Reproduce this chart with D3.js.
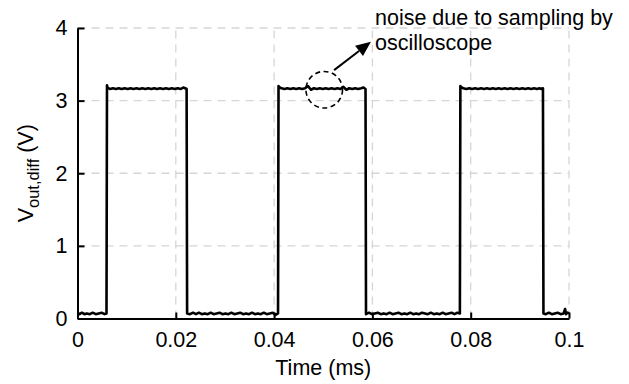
<!DOCTYPE html>
<html>
<head>
<meta charset="utf-8">
<script src="https://cdn.jsdelivr.net/npm/d3@7"></script>
<style>
  html, body { margin: 0; padding: 0; background: #fff; }
  svg { display: block; font-family: "Liberation Sans", Arial, sans-serif; }
</style>
</head>
<body>
<svg id="chart" width="629" height="384"></svg>
<script>
// ---------- data (time in ms, voltage in V) ----------
const xTicks = [0, 0.02, 0.04, 0.06, 0.08, 0.1];
const xTickLabels = ["0", "0.02", "0.04", "0.06", "0.08", "0.1"];
const yTicks = [0, 1, 2, 3, 4];
const yTickLabels = ["0", "1", "2", "3", "4"];

const low1T = [0, 0.0004, 0.0009, 0.0014, 0.0019, 0.0025, 0.0031, 0.0037, 0.0043, 0.0049, 0.0055, 0.0059];
const low1V = [0.08, 0.06, 0.08, 0.06, 0.07, 0.06, 0.08, 0.06, 0.07, 0.08, 0.06, 0.07];

const high1T = [0.0060, 0.0061, 0.0066, 0.0072, 0.0078, 0.0084, 0.0090, 0.0096, 0.0102, 0.0108, 0.0114, 0.0120, 0.0126, 0.0132, 0.0138, 0.0144, 0.0150, 0.0156, 0.0162, 0.0168, 0.0174, 0.0180, 0.0186, 0.0192, 0.0198, 0.0204, 0.0210, 0.0215, 0.0219, 0.0222];
const high1V = [3.21, 3.18, 3.16, 3.17, 3.16, 3.17, 3.16, 3.17, 3.16, 3.17, 3.16, 3.17, 3.16, 3.17, 3.16, 3.17, 3.16, 3.17, 3.16, 3.17, 3.16, 3.17, 3.16, 3.17, 3.16, 3.17, 3.16, 3.18, 3.17, 3.16];

const low2T = [0.0223, 0.0229, 0.0235, 0.0241, 0.0247, 0.0253, 0.0259, 0.0265, 0.0271, 0.0277, 0.0283, 0.0289, 0.0295, 0.0301, 0.0307, 0.0313, 0.0319, 0.0325, 0.0331, 0.0337, 0.0343, 0.0349, 0.0355, 0.0361, 0.0367, 0.0373, 0.0379, 0.0385, 0.0391, 0.0397, 0.0403, 0.0408];
const low2V = [0.07, 0.06, 0.08, 0.06, 0.08, 0.06, 0.07, 0.06, 0.08, 0.06, 0.07, 0.08, 0.06, 0.07, 0.06, 0.08, 0.06, 0.07, 0.08, 0.06, 0.07, 0.06, 0.08, 0.06, 0.07, 0.06, 0.08, 0.06, 0.07, 0.08, 0.05, 0.07];

const high2T = [0.0409, 0.0410, 0.0415, 0.0421, 0.0427, 0.0433, 0.0439, 0.0445, 0.0451, 0.0457, 0.0463, 0.0469, 0.0475, 0.0481, 0.0487, 0.0493, 0.0499, 0.0505, 0.0511, 0.0517, 0.0523, 0.0529, 0.0535, 0.0541, 0.0547, 0.0553, 0.0559, 0.0565, 0.0571, 0.0577, 0.0582, 0.0586];
const high2V = [3.20, 3.19, 3.17, 3.16, 3.17, 3.16, 3.17, 3.16, 3.17, 3.16, 3.17, 3.20, 3.15, 3.17, 3.16, 3.17, 3.16, 3.17, 3.16, 3.17, 3.16, 3.17, 3.16, 3.19, 3.15, 3.17, 3.16, 3.17, 3.16, 3.17, 3.18, 3.16];

const low3T = [0.0587, 0.0593, 0.0599, 0.0605, 0.0611, 0.0617, 0.0623, 0.0629, 0.0635, 0.0641, 0.0647, 0.0653, 0.0659, 0.0665, 0.0671, 0.0677, 0.0683, 0.0689, 0.0695, 0.0701, 0.0707, 0.0713, 0.0719, 0.0725, 0.0731, 0.0737, 0.0743, 0.0749, 0.0755, 0.0761, 0.0767, 0.0773, 0.0778];
const low3V = [0.06, 0.08, 0.06, 0.07, 0.08, 0.06, 0.07, 0.06, 0.08, 0.06, 0.07, 0.08, 0.06, 0.07, 0.06, 0.08, 0.06, 0.07, 0.06, 0.08, 0.07, 0.06, 0.08, 0.06, 0.07, 0.06, 0.08, 0.06, 0.07, 0.08, 0.06, 0.08, 0.07];

const high3T = [0.0779, 0.0780, 0.0785, 0.0791, 0.0797, 0.0803, 0.0809, 0.0815, 0.0821, 0.0827, 0.0833, 0.0839, 0.0845, 0.0851, 0.0857, 0.0863, 0.0869, 0.0875, 0.0881, 0.0887, 0.0893, 0.0899, 0.0905, 0.0911, 0.0917, 0.0923, 0.0929, 0.0935, 0.0940, 0.0944, 0.0947];
const high3V = [3.20, 3.19, 3.17, 3.16, 3.17, 3.16, 3.17, 3.16, 3.17, 3.16, 3.17, 3.16, 3.17, 3.16, 3.17, 3.16, 3.17, 3.16, 3.17, 3.16, 3.17, 3.16, 3.17, 3.16, 3.17, 3.16, 3.17, 3.16, 3.17, 3.16, 3.17];

const low4T = [0.0948, 0.0953, 0.0959, 0.0965, 0.0971, 0.0977, 0.0983, 0.0989, 0.0992, 0.0994, 0.0997, 0.1];
const low4V = [0.07, 0.06, 0.08, 0.06, 0.07, 0.08, 0.06, 0.07, 0.13, 0.06, 0.08, 0.07];

const noteLines = ["noise due to sampling by", "oscilloscope"];
const noteCircleAt = [0.0502, 3.15];   // data coords of the dashed circle centre
const noteArrowFrom = [0.0522, 3.42];
const noteArrowTo = [0.0597, 3.81];

// ---------- build ----------
const timeMs = [].concat(low1T, high1T, low2T, high2T, low3T, high3T, low4T);
const voutV = [].concat(low1V, high1V, low2V, high2V, low3V, high3V, low4V);
const points = timeMs.map((t, i) => [t, voutV[i]]);

const svg = d3.select("#chart");
const x = d3.scaleLinear().domain([0, 0.1]).range([77.5, 569]);
const y = d3.scaleLinear().domain([0, 4]).range([318.5, 28]);

// grid
const grid = svg.append("g").attr("stroke", "#d6d6d6").attr("stroke-width", 1.3)
  .attr("stroke-dasharray", "8,6").attr("fill", "none");
grid.selectAll("line.gx").data(xTicks.filter(d => d > 0)).join("line")
  .attr("x1", d => x(d)).attr("x2", d => x(d))
  .attr("y1", y(0)).attr("y2", y(4));
grid.selectAll("line.gy").data(yTicks.filter(d => d > 0)).join("line")
  .attr("x1", x(0)).attr("x2", x(0.1))
  .attr("y1", d => y(d)).attr("y2", d => y(d));

// waveform
svg.append("path").datum(points)
  .attr("fill", "none").attr("stroke", "#000").attr("stroke-width", 2.6)
  .attr("stroke-linejoin", "round")
  .attr("d", d3.line().x(d => x(d[0])).y(d => y(d[1])));

// axes
const xAxis = d3.axisBottom(x).tickValues(xTicks)
  .tickFormat((d, i) => xTickLabels[i]).tickSizeInner(-6).tickSizeOuter(0).tickPadding(13);
const yAxis = d3.axisLeft(y).tickValues(yTicks)
  .tickFormat((d, i) => yTickLabels[i]).tickSizeInner(-7).tickSizeOuter(0).tickPadding(10);

const gx = svg.append("g").attr("transform", `translate(0,${y(0)})`).call(xAxis);
const gy = svg.append("g").attr("transform", `translate(${x(0)},0)`).call(yAxis);
[gx, gy].forEach(g => {
  g.select(".domain").attr("stroke", "#000").attr("stroke-width", 2);
  g.selectAll(".tick line").attr("stroke", "#000").attr("stroke-width", 2);
  g.selectAll(".tick text").attr("fill", "#000")
    .style("font-family", "'Liberation Sans', Arial, sans-serif").style("font-size", "21.5px");
});

// axis titles
svg.append("text").attr("x", x(0.05)).attr("y", 375).attr("text-anchor", "middle")
  .style("font-size", "21.5px").text("Time (ms)");

const yl = svg.append("text").attr("transform", `translate(33,${(y(0) + y(4)) / 2}) rotate(-90)`)
  .attr("text-anchor", "middle").style("font-size", "21.5px");
yl.append("tspan").text("V");
yl.append("tspan").attr("dy", 6).style("font-size", "16.5px").text("out,diff");
yl.append("tspan").attr("dy", -6).text(" (V)");

// annotation
svg.append("circle").attr("cx", x(noteCircleAt[0])).attr("cy", y(noteCircleAt[1])).attr("r", 18.3)
  .attr("fill", "none").attr("stroke", "#000").attr("stroke-width", 1.6).attr("stroke-dasharray", "5,3.5");

const ax0 = x(noteArrowFrom[0]), ay0 = y(noteArrowFrom[1]);
const ax1 = x(noteArrowTo[0]), ay1 = y(noteArrowTo[1]);
const ang = Math.atan2(ay1 - ay0, ax1 - ax0);
const headLen = 15, headW = 6.5;
const bx = ax1 - headLen * Math.cos(ang), by = ay1 - headLen * Math.sin(ang);
svg.append("line").attr("x1", ax0).attr("y1", ay0).attr("x2", bx).attr("y2", by)
  .attr("stroke", "#000").attr("stroke-width", 2);
svg.append("path")
  .attr("d", `M${ax1},${ay1}L${bx + headW * Math.sin(ang)},${by - headW * Math.cos(ang)}L${bx - headW * Math.sin(ang)},${by + headW * Math.cos(ang)}Z`)
  .attr("fill", "#000");

const note = svg.append("text").style("font-size", "21.5px").attr("fill", "#000");
note.selectAll("tspan").data(noteLines).join("tspan")
  .attr("x", 375).attr("y", (d, i) => 25 + i * 25).text(d => d);
</script>
</body>
</html>
